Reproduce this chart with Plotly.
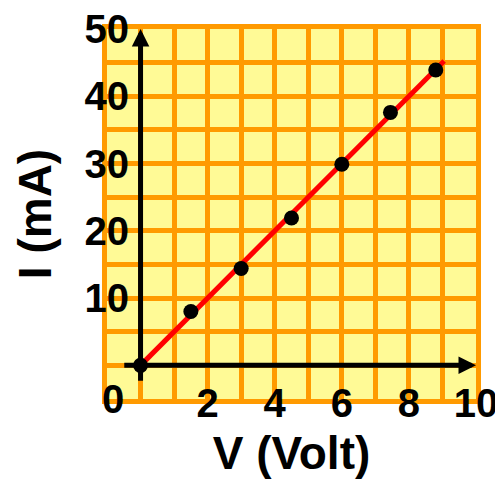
import plotly.graph_objects as go

# Data
voltage = [0, 1.5, 3.0, 4.5, 6.0, 7.45, 8.8]
current = [0, 8.0, 14.4, 21.9, 29.9, 37.6, 43.9]
fit_v = [0, 9.05]
fit_i = [0, 45.25]

x_grid = list(range(-1, 11))
x_labels = ["2", "4", "6", "8", "10"]
y_grid = list(range(-5, 51, 5))
y_labels = ["10", "20", "30", "40", "50"]

x_text = [str(v) if str(v) in x_labels else "" for v in x_grid]
y_text = [str(v) if str(v) in y_labels else "" for v in y_grid]

YELLOW = "#FFFA96"
ORANGE = "#FF9A00"
FONT = "Liberation Sans"

fig = go.Figure()
fig.add_trace(go.Scatter(x=fit_v, y=fit_i, mode="lines",
                         line=dict(color="#FF0000", width=5), hoverinfo="skip"))
fig.add_trace(go.Scatter(x=voltage, y=current, mode="markers",
                         marker=dict(color="black", size=15)))

# axis arrows
fig.add_annotation(x=10, y=0, ax=-0.53, ay=0, xref="x", yref="y", axref="x", ayref="y",
                   text="", showarrow=True, arrowhead=2, arrowwidth=5, arrowsize=0.7,
                   arrowcolor="black")
fig.add_annotation(x=0, y=50, ax=0, ay=-2.5, xref="x", yref="y", axref="x", ayref="y",
                   text="", showarrow=True, arrowhead=2, arrowwidth=5, arrowsize=0.7,
                   arrowcolor="black")
# origin label
fig.add_annotation(x=0, y=-5, xref="x", yref="y", text="0", showarrow=False,
                   xanchor="right", yanchor="middle", xshift=-15, yshift=0,
                   font=dict(family=FONT, size=40, color="black", weight="bold"))

# page body has an 8px margin, so the figure is 8px smaller than the window
fig.update_layout(
    width=495, height=471,
    margin=dict(l=99, r=27, t=21, b=80, autoexpand=False),
    paper_bgcolor="white", plot_bgcolor=YELLOW,
    showlegend=False,
    xaxis=dict(range=[-1, 10], tickvals=x_grid, ticktext=x_text, automargin=False,
               showgrid=True, gridcolor=ORANGE, gridwidth=5, zeroline=False,
               showline=True, linecolor=ORANGE, linewidth=5, mirror=True,
               ticks="", ticklabelstandoff=-35, ticklabeloverflow="allow",
               tickfont=dict(family=FONT, size=40, color="black", weight="bold"),
               title=dict(text="V (Volt)", standoff=30,
                          font=dict(family=FONT, size=46, color="black", weight="bold")),
               fixedrange=True),
    yaxis=dict(range=[-5, 50], tickvals=y_grid, ticktext=y_text, automargin=False,
               showgrid=True, gridcolor=ORANGE, gridwidth=5, zeroline=False,
               showline=True, linecolor=ORANGE, linewidth=5, mirror=True,
               ticks="", ticklabelstandoff=-35, ticklabelshift=0, ticklabeloverflow="allow",
               tickfont=dict(family=FONT, size=40, color="black", weight="bold"),
               title=dict(text="I (mA)", standoff=20,
                          font=dict(family=FONT, size=46, color="black", weight="bold")),
               fixedrange=True),
)

fig.write_html("out.html")
